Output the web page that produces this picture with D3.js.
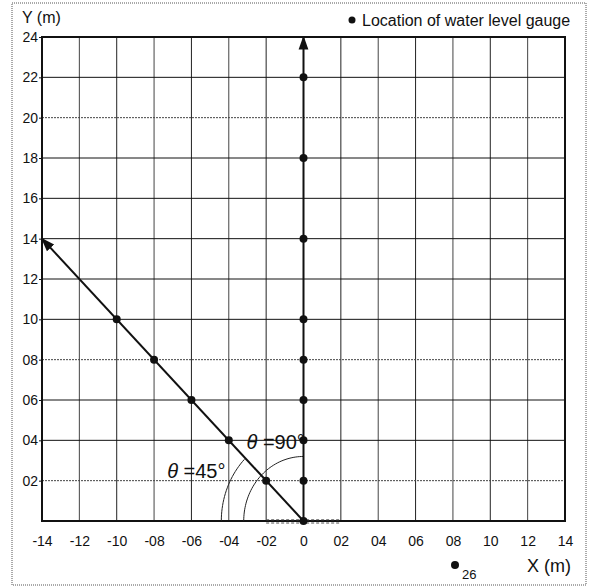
<!DOCTYPE html>
<html>
<head>
<meta charset="utf-8">
<script src="https://cdn.jsdelivr.net/npm/d3@7"></script>
<style>
  body { margin: 0; background: #fff; }
  text { font-family: Arial, "Liberation Sans", sans-serif; fill: #111; }
</style>
</head>
<body>
<div id="chart"></div>
<script>
// gauge locations along the two lines
const verticalGauges = [[0, 0], [0, 2], [0, 4], [0, 6], [0, 8], [0, 10], [0, 14], [0, 18], [0, 22]]
const diagonalGauges = [[-2, 2], [-4, 4], [-6, 6], [-8, 8], [-10, 10]]
const verticalLine = [[0, 0], [0, 24]]
const diagonalLine = [[0, 0], [-14, 14]]
const xTicks = [-14, -12, -10, -8, -6, -4, -2, 0, 2, 4, 6, 8, 10, 12, 14]
const xTickLabels = ["-14", "-12", "-10", "-08", "-06", "-04", "-02", "0", "02", "04", "06", "08", "10", "12", "14"]
const yTicks = [2, 4, 6, 8, 10, 12, 14, 16, 18, 20, 22, 24]
const yTickLabels = ["02", "04", "06", "08", "10", "12", "14", "16", "18", "20", "22", "24"]
const arc45 = { r: 4.4, from: 180, to: 135 }
const arc90 = { r: 3.2, from: 180, to: 90 }

const width = 592, height = 587
const margin = { top: 37, right: 27, bottom: 66, left: 42 }

const svg = d3.select("#chart").append("svg")
  .attr("width", width)
  .attr("height", height)

const x = d3.scaleLinear().domain([-14, 14]).range([margin.left, width - margin.right])
const y = d3.scaleLinear().domain([0, 24]).range([height - margin.bottom, margin.top])

// outer frame
svg.append("rect")
  .attr("x", 12).attr("y", 3).attr("width", 574).attr("height", 582)
  .attr("fill", "none").attr("stroke", "#555").attr("stroke-width", 1)
  .attr("stroke-dasharray", "1,1")

const defs = svg.append("defs")
defs.append("marker")
  .attr("id", "arrow")
  .attr("viewBox", "0 0 10 10")
  .attr("refX", 9).attr("refY", 5)
  .attr("markerWidth", 7).attr("markerHeight", 7)
  .attr("orient", "auto")
  .append("path").attr("d", "M0,1.5 L10,5 L0,8.5 Z").attr("fill", "#111")

// grid
svg.append("g").selectAll("line")
  .data(xTicks.slice(1, -1))
  .join("line")
  .attr("x1", d => x(d)).attr("x2", d => x(d))
  .attr("y1", y(0)).attr("y2", y(24))
  .attr("stroke", (d, i) => i % 2 ? "#222" : "#444")
  .attr("stroke-width", 1)

svg.append("g").selectAll("line")
  .data(yTicks.slice(0, -1))
  .join("line")
  .attr("x1", x(-14)).attr("x2", x(14))
  .attr("y1", d => y(d)).attr("y2", d => y(d))
  .attr("stroke", d => [2, 8, 20].includes(d) ? "#444" : "#111")
  .attr("stroke-dasharray", d => [2, 8, 20].includes(d) ? "2,1" : null)
  .attr("stroke-width", 1)

// plot frame
svg.append("rect")
  .attr("x", x(-14)).attr("y", y(24))
  .attr("width", x(14) - x(-14)).attr("height", y(0) - y(24))
  .attr("fill", "none").attr("stroke", "#111").attr("stroke-width", 2)

// axes labels
const xAxis = d3.axisBottom(x).tickValues(xTicks).tickSize(0).tickPadding(15)
  .tickFormat((d, i) => xTickLabels[i])
svg.append("g")
  .attr("transform", `translate(0,${y(0)})`)
  .call(xAxis)
  .call(g => g.select(".domain").remove())
  .call(g => g.selectAll("text").style("font-size", "14px").attr("font-family", null))

const yAxis = d3.axisLeft(y).tickValues(yTicks).tickSize(3).tickPadding(1)
  .tickFormat((d, i) => yTickLabels[i])
svg.append("g")
  .attr("transform", `translate(${x(-14)},0)`)
  .call(yAxis)
  .call(g => g.select(".domain").remove())
  .call(g => g.selectAll("line").attr("stroke", "#111"))
  .call(g => g.selectAll("text").style("font-size", "14px").attr("font-family", null))

// dashed strip at bottom near origin
const line = d3.line().x(d => x(d[0])).y(d => y(d[1]))
svg.append("path")
  .attr("d", line([[-2, 0.06], [2, 0.06]]))
  .attr("stroke", "#555").attr("stroke-dasharray", "3,2").attr("fill", "none")
svg.append("path")
  .attr("d", line([[-2, -0.1], [2, -0.1]]))
  .attr("stroke", "#555").attr("stroke-dasharray", "3,2").attr("fill", "none")

// angle arcs
function arcPts(a) {
  return d3.range(a.from, a.to - 0.1, -2).map(t => [a.r * Math.cos(t * Math.PI / 180), a.r * Math.sin(t * Math.PI / 180)])
}
svg.append("path").attr("d", line(arcPts(arc45))).attr("fill", "none").attr("stroke", "#222").attr("stroke-width", 1)
svg.append("path").attr("d", line(arcPts(arc90))).attr("fill", "none").attr("stroke", "#222").attr("stroke-width", 1)

// lines with arrows
svg.append("path").attr("d", line(verticalLine))
  .attr("stroke", "#111").attr("stroke-width", 2).attr("fill", "none")
  .attr("marker-end", "url(#arrow)")
svg.append("path").attr("d", line(diagonalLine))
  .attr("stroke", "#111").attr("stroke-width", 2).attr("fill", "none")
  .attr("marker-end", "url(#arrow)")

// gauges
svg.append("g").selectAll("circle")
  .data(verticalGauges.concat(diagonalGauges))
  .join("circle")
  .attr("cx", d => x(d[0])).attr("cy", d => y(d[1]))
  .attr("r", 4).attr("fill", "#111")

// angle labels
function thetaLabel(px, py, txt) {
  const t = svg.append("text").attr("x", px).attr("y", py).style("font-size", "20px")
  t.append("tspan").text("θ").style("font-style", "italic")
  t.append("tspan").text(txt)
}
thetaLabel(x(-7.3), y(2.15), " =45°")
thetaLabel(x(-3.05), y(3.55), " =90°")

// titles
svg.append("text").attr("x", 22).attr("y", 23).text("Y (m)").style("font-size", "16px")
svg.append("text").attr("x", 527).attr("y", 572).text("X (m)").style("font-size", "18px")

// legend
svg.append("circle").attr("cx", 352).attr("cy", 20).attr("r", 3.5).attr("fill", "#111")
svg.append("text").attr("x", 362).attr("y", 26).text("Location of water level gauge").style("font-size", "16px")

// stray label at bottom
svg.append("circle").attr("cx", 455).attr("cy", 565).attr("r", 4).attr("fill", "#111")
svg.append("text").attr("x", 462).attr("y", 579).text("26").style("font-size", "13px")
</script>
</body>
</html>
